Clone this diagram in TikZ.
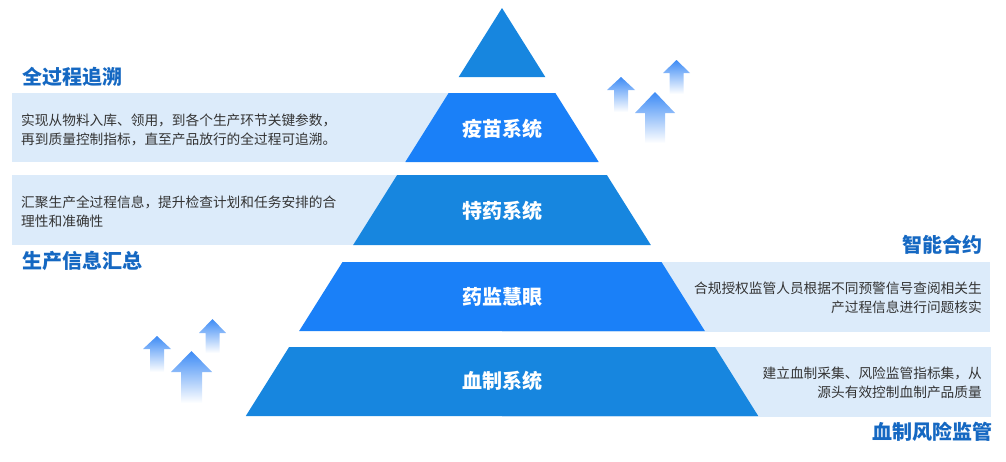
\documentclass[tikz,border=0pt]{standalone}
\usepackage{fontspec}
\setmainfont{Noto Sans CJK SC}
\usepackage{xcolor}
\usetikzlibrary{positioning}

\definecolor{darkblue}{HTML}{1786DF}
\definecolor{brightblue}{HTML}{1A80F8}
\definecolor{panelblue}{HTML}{DCEBFA}
\definecolor{titleblue}{HTML}{1568C2}
\definecolor{arrowblue}{HTML}{3D8BF5}
\definecolor{desctext}{HTML}{333333}

\begin{document}
\begin{tikzpicture}[x=1pt,y=-1pt,
		layertext/.style={text=white, font=\bfseries\fontsize{20}{24}\selectfont},
		titletext/.style={text=titleblue, font=\bfseries\fontsize{20}{24}\selectfont, inner sep=0pt},
		desctext/.style={text=desctext, font=\fontsize{13.7}{19}\selectfont, inner sep=0pt},
		panel/.style={fill=panelblue},
	]
	\useasboundingbox (0,0) rectangle (1006,461);

	% side panels
	\fill[panel] (12,93) rectangle (502,162);
	\fill[panel] (12,175) rectangle (502,245);
	\fill[panel] (502,262) rectangle (990,332);
	\fill[panel] (502,347) rectangle (991,417);

	% pyramid
	\fill[darkblue] (502,8) -- (545.3,77) -- (458.7,77) -- cycle;
	\foreach \ytop/\ybot/\col in {93/162/brightblue, 175/245/darkblue, 262/331/brightblue, 347/416/darkblue}{
		\pgfmathsetmacro{\wtop}{0.628*(\ytop-8)}
		\pgfmathsetmacro{\wbot}{0.628*(\ybot-8)}
		\fill[\col] (502-\wtop,\ytop) -- (502+\wtop,\ytop) -- (502+\wbot,\ybot) -- (502-\wbot,\ybot) -- cycle;
	}

	% layer labels
	\node[layertext] (vaccine) at (502,129) {疫苗系统};
	\node[layertext] (special) at (502,211) {特药系统};
	\node[layertext] (eye)     at (502,297) {药监慧眼};
	\node[layertext] (blood)   at (502,381) {血制系统};

	% titles
	\node[titletext, anchor=west] (trace)   at (22,77)  {全过程追溯};
	\node[titletext, anchor=west] (collect) at (22,261) {生产信息汇总};
	\node[titletext, anchor=east] (smart)   at (983,245) {智能合约};
	\node[titletext, anchor=east] (risk)    at (993,432) {血制风险监管};

	% descriptions
	\node[desctext, anchor=west, align=left] (tracedesc) at (21,130)
		{实现从物料入库、领用，到各个生产环节关键参数，\\再到质量控制指标，直至产品放行的全过程可追溯。};
	\node[desctext, anchor=west, align=left] (collectdesc) at (21,212)
		{汇聚生产全过程信息，提升检查计划和任务安排的合\\理性和准确性};
	\node[desctext, anchor=east, align=right] (smartdesc) at (982,298)
		{合规授权监管人员根据不同预警信号查阅相关生\\产过程信息进行问题核实};
	\node[desctext, anchor=east, align=right] (riskdesc) at (982,383)
		{建立血制采集、风险监管指标集，从\\源头有效控制血制产品质量};

	% arrows
	\foreach \x/\ytip/\hw/\sw/\hh/\yend in {621/77/14/7/13/112, 655/92/20/10/21/143, 676.5/60/13.5/7/13/94,
		157/336/14/7/13/372, 191.5/351/20.5/10.5/21/403, 212.5/319/13.5/7/14/353}{
		\shade[top color=arrowblue, bottom color=white]
			(\x,\ytip) -- (\x+\hw,\ytip+\hh) -- (\x+\sw,\ytip+\hh) -- (\x+\sw,\yend)
			-- (\x-\sw,\yend) -- (\x-\sw,\ytip+\hh) -- (\x-\hw,\ytip+\hh) -- cycle;
	}

\end{tikzpicture}
\end{document}
